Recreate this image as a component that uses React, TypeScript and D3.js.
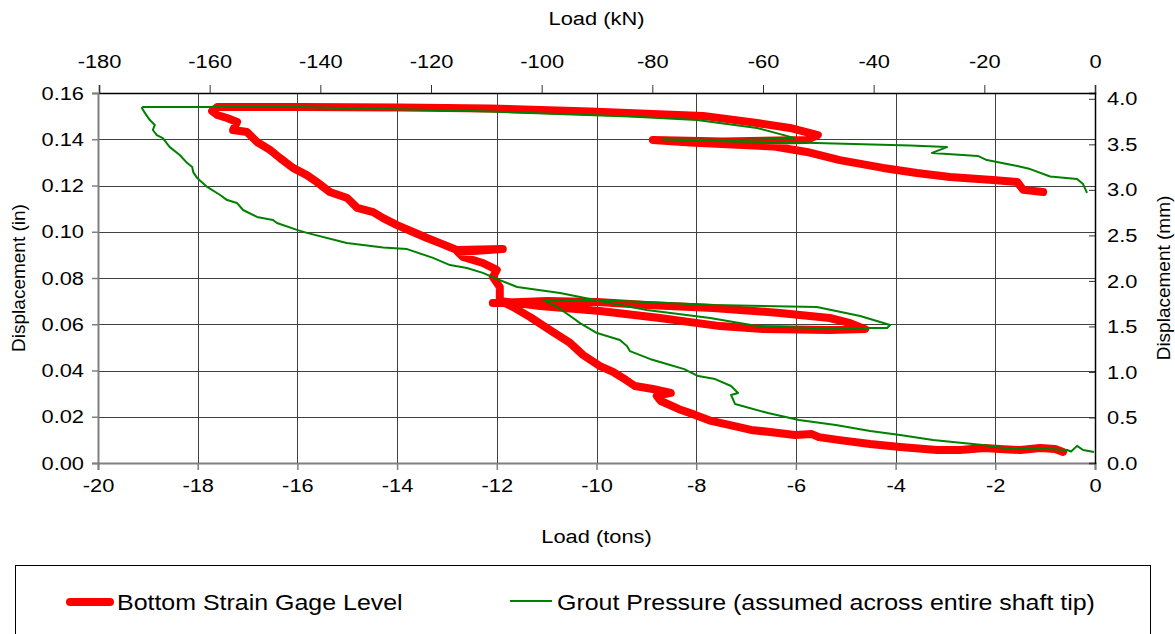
import { useEffect, useRef } from "react";
import * as d3 from "d3";

// Bottom Strain Gage Level: load (tons), displacement (in)
const gageLoad = [
  -0.64, -0.8, -1.1, -1.5, -1.91, -2.21, -2.71, -3.17, -3.91, -4.51, -5.12, -5.54, -5.68, -6.02, -6.52, -6.9,
  -7.32, -7.7, -8.02, -8.3, -8.71, -8.79, -8.51, -8.87, -9.23, -9.41, -9.67, -9.93, -10.27, -10.53, -10.87,
  -11.33, -11.68, -11.84,
  -12.08, -10.99, -9.99, -8.99, -7.66, -6.32, -5.32, -4.91, -4.61, -5.32, -6.66, -7.52, -8.73, -9.93, -11.13, -11.94,
  -11.94, -11.94, -12.08, -12.0, -12.28, -12.68, -12.78, -11.88, -12.8, -13.14, -13.4, -13.68, -14.0, -14.28,
  -14.48, -14.8, -15.0, -15.35, -15.61, -15.81, -16.09, -16.35, -16.55, -16.81, -17.01, -17.29, -17.21, -17.41,
  -17.61, -17.71, -17.61,
  -15.95, -13.94, -12.14, -10.13, -7.86, -6.78, -6.12, -5.56, -5.78, -7.46, -8.87, -8.12, -6.46, -5.78, -5.12,
  -4.25, -3.57, -2.91, -2.05, -1.56, -1.44, -1.04,
];
const gageDisp = [
  0.0048, 0.0061, 0.0065, 0.0056, 0.0061, 0.0065, 0.0056, 0.0056, 0.0069, 0.0082, 0.0099, 0.0112, 0.0125, 0.0121,
  0.0134, 0.0143, 0.0164, 0.0182, 0.0208, 0.0229, 0.0268, 0.029, 0.0303, 0.032, 0.0333, 0.0359, 0.0394, 0.0419,
  0.0467, 0.0519, 0.0566, 0.0631, 0.0675, 0.0692,
  0.0692, 0.0701, 0.0696, 0.0683, 0.067, 0.0649, 0.0627, 0.0605, 0.0579, 0.0575, 0.0579, 0.0592, 0.0627, 0.0657,
  0.0679, 0.0701,
  0.0735, 0.0761, 0.0804, 0.0835, 0.0865, 0.0891, 0.0912, 0.0925, 0.0921, 0.0951, 0.0973, 0.0999, 0.1029, 0.1059,
  0.1085, 0.1103, 0.1146, 0.1172, 0.1215, 0.1245, 0.1276, 0.1319, 0.1354, 0.1388, 0.1431, 0.144, 0.1475, 0.1492,
  0.1505, 0.1522, 0.1539,
  0.1539, 0.1537, 0.1533, 0.152, 0.1501, 0.147, 0.1449, 0.1418, 0.1397, 0.139, 0.1397, 0.1386, 0.1369, 0.1345,
  0.131, 0.1276, 0.1254, 0.1237, 0.1224, 0.1215, 0.1181, 0.1172,
];

// Grout Pressure (assumed across entire shaft tip)
const groutLoad = [
  -0.02, -0.24, -0.36, -0.48, -0.56, -1.24, -1.83, -2.25, -3.25, -3.91, -4.51, -5.2, -5.94, -6.56, -7.22, -7.3,
  -7.16, -7.3, -7.62, -7.96, -8.24, -8.59, -8.93, -9.33, -9.39, -9.53, -9.99, -10.33, -10.47, -10.79, -11.07,
  -9.99, -7.66, -5.58, -4.71, -4.11, -4.17, -5.66, -6.78, -7.72, -8.99, -9.93, -10.73, -11.59, -11.94, -12.28,
  -12.6, -12.94, -13.28, -13.8, -14.28, -15.01, -15.81, -16.01, -16.41, -16.49, -16.81, -17.09, -17.21, -17.41,
  -17.55, -17.81, -18.01, -18.09, -18.11, -18.21, -18.36, -18.56, -18.7, -18.82, -18.9, -18.86, -18.96, -19.06,
  -19.12,
  -19.1, -16.01, -13.34, -12.14, -9.33, -7.98, -6.78, -6.02, -7.12, -8.67, -7.32, -5.98, -3.71, -2.97, -3.27,
  -2.35, -2.17, -1.56, -1.3, -0.9, -0.36, -0.24, -0.16,
];
const groutDisp = [
  0.0048, 0.0056, 0.0074, 0.005, 0.0056, 0.0064, 0.0065, 0.0078, 0.0099, 0.0121, 0.0138, 0.0164, 0.0186, 0.0216,
  0.0255, 0.0294, 0.0303, 0.0333, 0.0363, 0.0376, 0.0406, 0.0428, 0.045, 0.0484, 0.0506, 0.0532, 0.0562, 0.0605,
  0.0627, 0.0675, 0.0705,
  0.0705, 0.0683, 0.0675, 0.0636, 0.0597, 0.0584, 0.0584, 0.0592, 0.0627, 0.0662, 0.0701, 0.0735, 0.0761, 0.0791,
  0.0822, 0.0843, 0.0856, 0.0887, 0.0925, 0.0932, 0.0951, 0.0995, 0.1008, 0.1038, 0.1051, 0.1064, 0.1094, 0.1124,
  0.1137, 0.1159, 0.1194, 0.1232, 0.1258, 0.128, 0.1297, 0.1332, 0.1366, 0.1405, 0.1418, 0.144, 0.1462, 0.1483,
  0.1514, 0.1535,
  0.1539, 0.1539, 0.1526, 0.152, 0.1498, 0.1483, 0.1449, 0.1405, 0.1397, 0.1399, 0.139, 0.1386, 0.1373, 0.1366,
  0.1341, 0.1328, 0.131, 0.1284, 0.1271, 0.1239, 0.1228, 0.1206, 0.1168,
];

const tonTicks = [-20, -18, -16, -14, -12, -10, -8, -6, -4, -2, 0];
const kNTicks = [-180, -160, -140, -120, -100, -80, -60, -40, -20, 0];
const inTicks = [0, 0.02, 0.04, 0.06, 0.08, 0.1, 0.12, 0.14, 0.16];
const mmTicks = [0, 0.5, 1, 1.5, 2, 2.5, 3, 3.5, 4];

const seriesNames = ["Bottom Strain Gage Level", "Grout Pressure (assumed across entire shaft tip)"];

export default function App() {
  const svgRef = useRef<SVGSVGElement>(null);

  useEffect(() => {
    const svg = d3.select(svgRef.current);
    svg.selectAll("*").remove();

    const W = 1175, H = 634;
    const m = { left: 98, right: 80, top: 93, bottom: 171 };
    const font = "Liberation Sans, Arial, sans-serif";
    const stretch = 1.15; // the picture's text is a bit wider than tall
    const fs = 19;

    const x = d3.scaleLinear().domain([-20, 0]).range([m.left, W - m.right]);
    const xKN = d3.scaleLinear().domain([-180, 0]).range([m.left + 1, W - m.right]);
    const y = d3.scaleLinear().domain([0, 0.16]).range([H - m.bottom, m.top]);
    const yMM = d3.scaleLinear().domain([0, 0.16 * 25.4]).range([H - m.bottom, m.top]);

    svg.attr("width", W).attr("height", H);
    svg.append("rect").attr("width", W).attr("height", H).attr("fill", "#fff");

    // grid
    const grid = svg.append("g").attr("stroke", "#404040").attr("stroke-width", 1);
    grid.selectAll(".vg").data(tonTicks.slice(1, -1)).enter().append("line")
      .attr("x1", d => Math.round(x(d)) + 0.5).attr("x2", d => Math.round(x(d)) + 0.5)
      .attr("y1", y(0)).attr("y2", y(0.16));
    grid.selectAll(".hg").data(inTicks.slice(1, -1)).enter().append("line")
      .attr("y1", d => Math.round(y(d)) + 0.5).attr("y2", d => Math.round(y(d)) + 0.5)
      .attr("x1", x(-20)).attr("x2", x(0));

    const fmtPlain = (d: any) => String(d);

    const gB = svg.append("g").attr("transform", `translate(0,${y(0)})`)
      .call(d3.axisBottom(x).tickValues(tonTicks).tickFormat(fmtPlain).tickSizeOuter(0).tickSize(7).tickPadding(9));
    const gT = svg.append("g").attr("transform", `translate(0,${y(0.16)})`)
      .call(d3.axisTop(xKN).tickValues(kNTicks).tickFormat(fmtPlain).tickSizeOuter(0).tickSize(8).tickPadding(17));
    const gL = svg.append("g").attr("transform", `translate(${x(-20)},0)`)
      .call(d3.axisLeft(y).tickValues(inTicks).tickFormat(d3.format(".2f") as any).tickSizeOuter(0).tickSize(6).tickPadding(8));
    const gR = svg.append("g").attr("transform", `translate(${x(0)},0)`)
      .call(d3.axisRight(yMM).tickValues(mmTicks).tickFormat(d3.format(".1f") as any).tickSizeOuter(0).tickSize(-6).tickPadding(12));

    [gB, gL].forEach(g => {
      g.select(".domain").attr("stroke", "#808080").attr("stroke-width", 2);
      g.selectAll(".tick line").attr("stroke", "#808080").attr("stroke-width", 1.5);
    });
    [gT, gR].forEach(g => {
      g.select(".domain").attr("stroke", "#000").attr("stroke-width", 1.5);
      g.selectAll(".tick line").attr("stroke", "#333");
    });
    [gB, gT, gL, gR].forEach(g => {
      g.selectAll<SVGTextElement, unknown>("text").each(function () {
        const t = d3.select(this);
        const tx = +(t.attr("x") || 0);
        t.attr("x", tx / stretch).attr("transform", `scale(${stretch},1)`)
          .attr("font-family", font).attr("font-size", fs).attr("fill", "#000");
      });
    });

    // series
    const plot = svg.append("g");
    const line = d3.line<[number, number]>().x(d => x(d[0])).y(d => y(d[1]));
    const gagePts = gageLoad.map((v, i) => [v, gageDisp[i]] as [number, number]);
    const groutPts = groutLoad.map((v, i) => [v, groutDisp[i]] as [number, number]);

    plot.append("path").datum(gagePts)
      .attr("fill", "none").attr("stroke", "#ff0000").attr("stroke-width", 8)
      .attr("stroke-linejoin", "round").attr("stroke-linecap", "round")
      .attr("d", line);
    plot.append("path").datum(groutPts)
      .attr("fill", "none").attr("stroke", "#008000").attr("stroke-width", 2)
      .attr("stroke-linejoin", "round")
      .attr("d", line);

    // axis titles
    const cx = (x(-20) + x(0)) / 2;
    const cy = (y(0) + y(0.16)) / 2;
    const title = (tr: string, s: string) =>
      svg.append("text").attr("transform", tr).attr("text-anchor", "middle")
        .attr("font-family", font).attr("font-size", fs).text(s);
    title(`translate(${cx},25) scale(${stretch},1)`, "Load (kN)");
    title(`translate(${cx},543) scale(${stretch},1)`, "Load (tons)");
    title(`translate(25,${cy}) rotate(-90)`, "Displacement (in)");
    title(`translate(1170,${cy}) rotate(-90)`, "Displacement (mm)");

    // legend
    const lg = svg.append("g");
    lg.append("rect").attr("x", 15.5).attr("y", 565.5).attr("width", 1135).attr("height", 90)
      .attr("fill", "#fff").attr("stroke", "#000").attr("stroke-width", 1);
    lg.append("line").attr("x1", 70).attr("x2", 110).attr("y1", 602).attr("y2", 602)
      .attr("stroke", "#ff0000").attr("stroke-width", 8).attr("stroke-linecap", "round");
    lg.append("text").attr("transform", `translate(117,610) scale(${stretch},1)`)
      .attr("font-family", font).attr("font-size", 21.7).text(seriesNames[0]);
    lg.append("line").attr("x1", 510).attr("x2", 552).attr("y1", 601).attr("y2", 601)
      .attr("stroke", "#008000").attr("stroke-width", 2);
    lg.append("text").attr("transform", `translate(557,610) scale(${stretch},1)`)
      .attr("font-family", font).attr("font-size", 21.7).text(seriesNames[1]);
  }, []);

  return (
    <div style={{ position: "absolute", left: 0, top: 0 }}>
      <svg ref={svgRef} style={{ display: "block" }} />
    </div>
  );
}
